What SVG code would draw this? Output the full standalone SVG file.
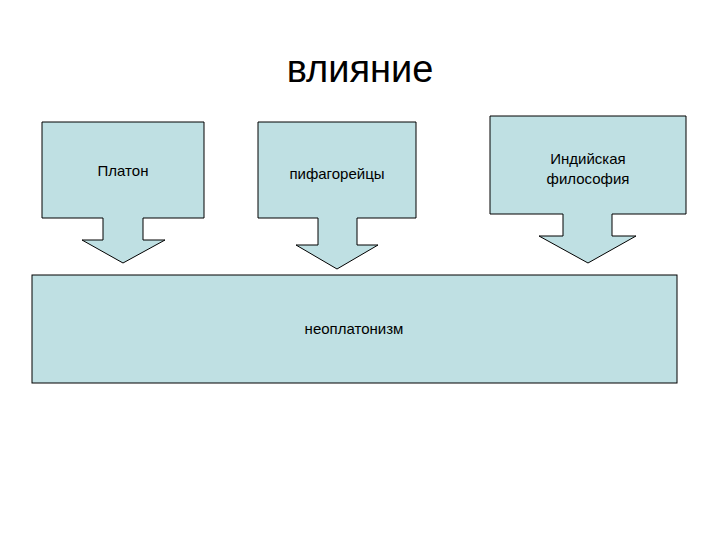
<svg xmlns="http://www.w3.org/2000/svg" width="720" height="540" viewBox="0 0 720 540">
<style>
.s{fill:#bfe0e3;stroke:#000;stroke-width:1}
.t{font-family:"Liberation Sans",Arial,sans-serif;font-size:15px;text-anchor:middle;fill:#000}
</style>
<rect width="720" height="540" fill="#fff"/>
<text x="360" y="82" style="font-family:'Liberation Sans',Arial,sans-serif;font-size:38px;text-anchor:middle">влияние</text>
<g id="platon">
<path class="s" d="M42,122 H204 V218 H143 V240 H165 L123,263 L82,240 H103 V218 H42 Z"/>
<text class="t" x="123" y="176">Платон</text>
</g>
<g id="pythagoreans">
<path class="s" d="M258,122 H416 V218 H357 V245 H378 L337,269 L296,245 H318 V218 H258 Z"/>
<text class="t" x="337" y="179">пифагорейцы</text>
</g>
<g id="indian">
<path class="s" d="M490,116 H686 V214 H612 V236 H636 L588,263 L539,236 H563 V214 H490 Z"/>
<text class="t" x="588" y="164">Индийская</text>
<text class="t" x="588" y="184">философия</text>
</g>
<g id="neoplatonism">
<rect class="s" x="32" y="275" width="645" height="108"/>
<text class="t" x="354" y="334">неоплатонизм</text>
</g>
<g id="connectors"></g>
</svg>
